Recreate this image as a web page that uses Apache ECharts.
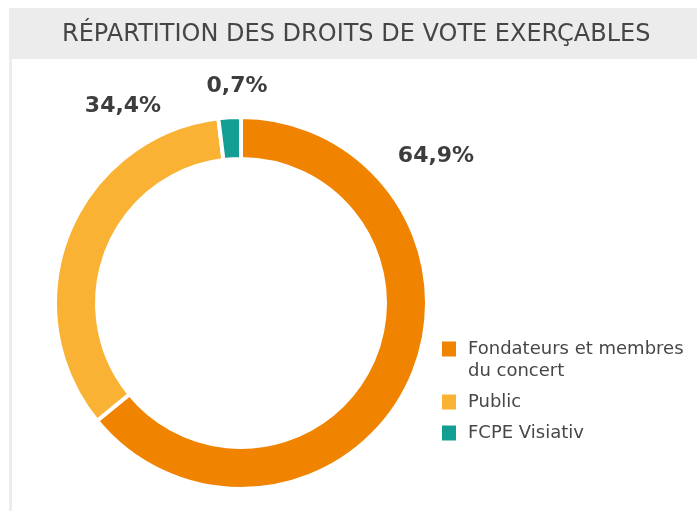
<!DOCTYPE html>
<html>
<head>
<meta charset="utf-8">
<script src="https://cdn.jsdelivr.net/npm/echarts@6/dist/echarts.min.js"></script>
<style>
  html, body { margin: 0; padding: 0; background: #fff; }
  #chart { width: 697px; height: 511px; }
</style>
</head>
<body>
<div id="chart"></div>
<script>
// données
var categories = ["Fondateurs et membres du concert", "Public", "FCPE Visiativ"];
var values = [64.9, 34.4, 0.7];
var colors = ["#F08300", "#F9B233", "#139E94"];
// emplacement des étiquettes (x, y)
var labelPos = [[436, 156], [123, 106], [237, 86]];

var chart = echarts.init(document.getElementById("chart"));

var pieData = categories.map(function (c, i) {
  return { name: c, value: values[i], itemStyle: { color: colors[i] } };
});

var option = {
  backgroundColor: "#fff",
  animation: false,
  graphic: [
    { type: "rect", shape: { x: 9, y: 8, width: 688, height: 51 }, style: { fill: "#ececec" }, silent: true },
    { type: "rect", shape: { x: 9, y: 59, width: 3, height: 460 }, style: { fill: "#ececec" }, silent: true }
  ],
  title: {
    text: "RÉPARTITION DES DROITS DE VOTE EXERÇABLES",
    left: 62,
    top: 23,
    padding: 0,
    textStyle: {
      fontFamily: "DejaVu Sans",
      fontWeight: "normal",
      fontSize: 24,
      color: "#454545"
    }
  },
  legend: {
    orient: "vertical",
    left: 437,
    top: 310,
    itemWidth: 14,
    itemHeight: 15,
    itemGap: 7,
    icon: "rect",
    selectedMode: false,
    itemStyle: { borderWidth: 0 },
    data: categories,
    formatter: function (name) {
      if (name === categories[0]) return "\nFondateurs et membres\ndu concert";
      return name;
    },
    textStyle: {
      fontFamily: "DejaVu Sans",
      fontSize: 18,
      lineHeight: 22,
      color: "#474747",
      padding: [2, 0, 0, 7]
    }
  },
  series: [
    {
      type: "pie",
      center: [241, 303],
      radius: [144, 186],
      startAngle: 90,
      clockwise: true,
      minAngle: 7,
      avoidLabelOverlap: false,
      itemStyle: { borderColor: "#fff", borderWidth: 4 },
      emphasis: { disabled: true },
      label: {
        show: true,
        position: "outside",
        formatter: function (p) {
          return String(p.value).replace(".", ",") + "%";
        },
        fontFamily: "DejaVu Sans",
        fontWeight: "bold",
        fontSize: 22,
        color: "#3d3d3d"
      },
      labelLine: { show: false },
      labelLayout: function (p) {
        var pos = labelPos[p.dataIndex];
        return { x: pos[0], y: pos[1], align: "center", verticalAlign: "middle" };
      },
      data: pieData
    }
  ]
};

chart.setOption(option);
</script>
</body>
</html>
